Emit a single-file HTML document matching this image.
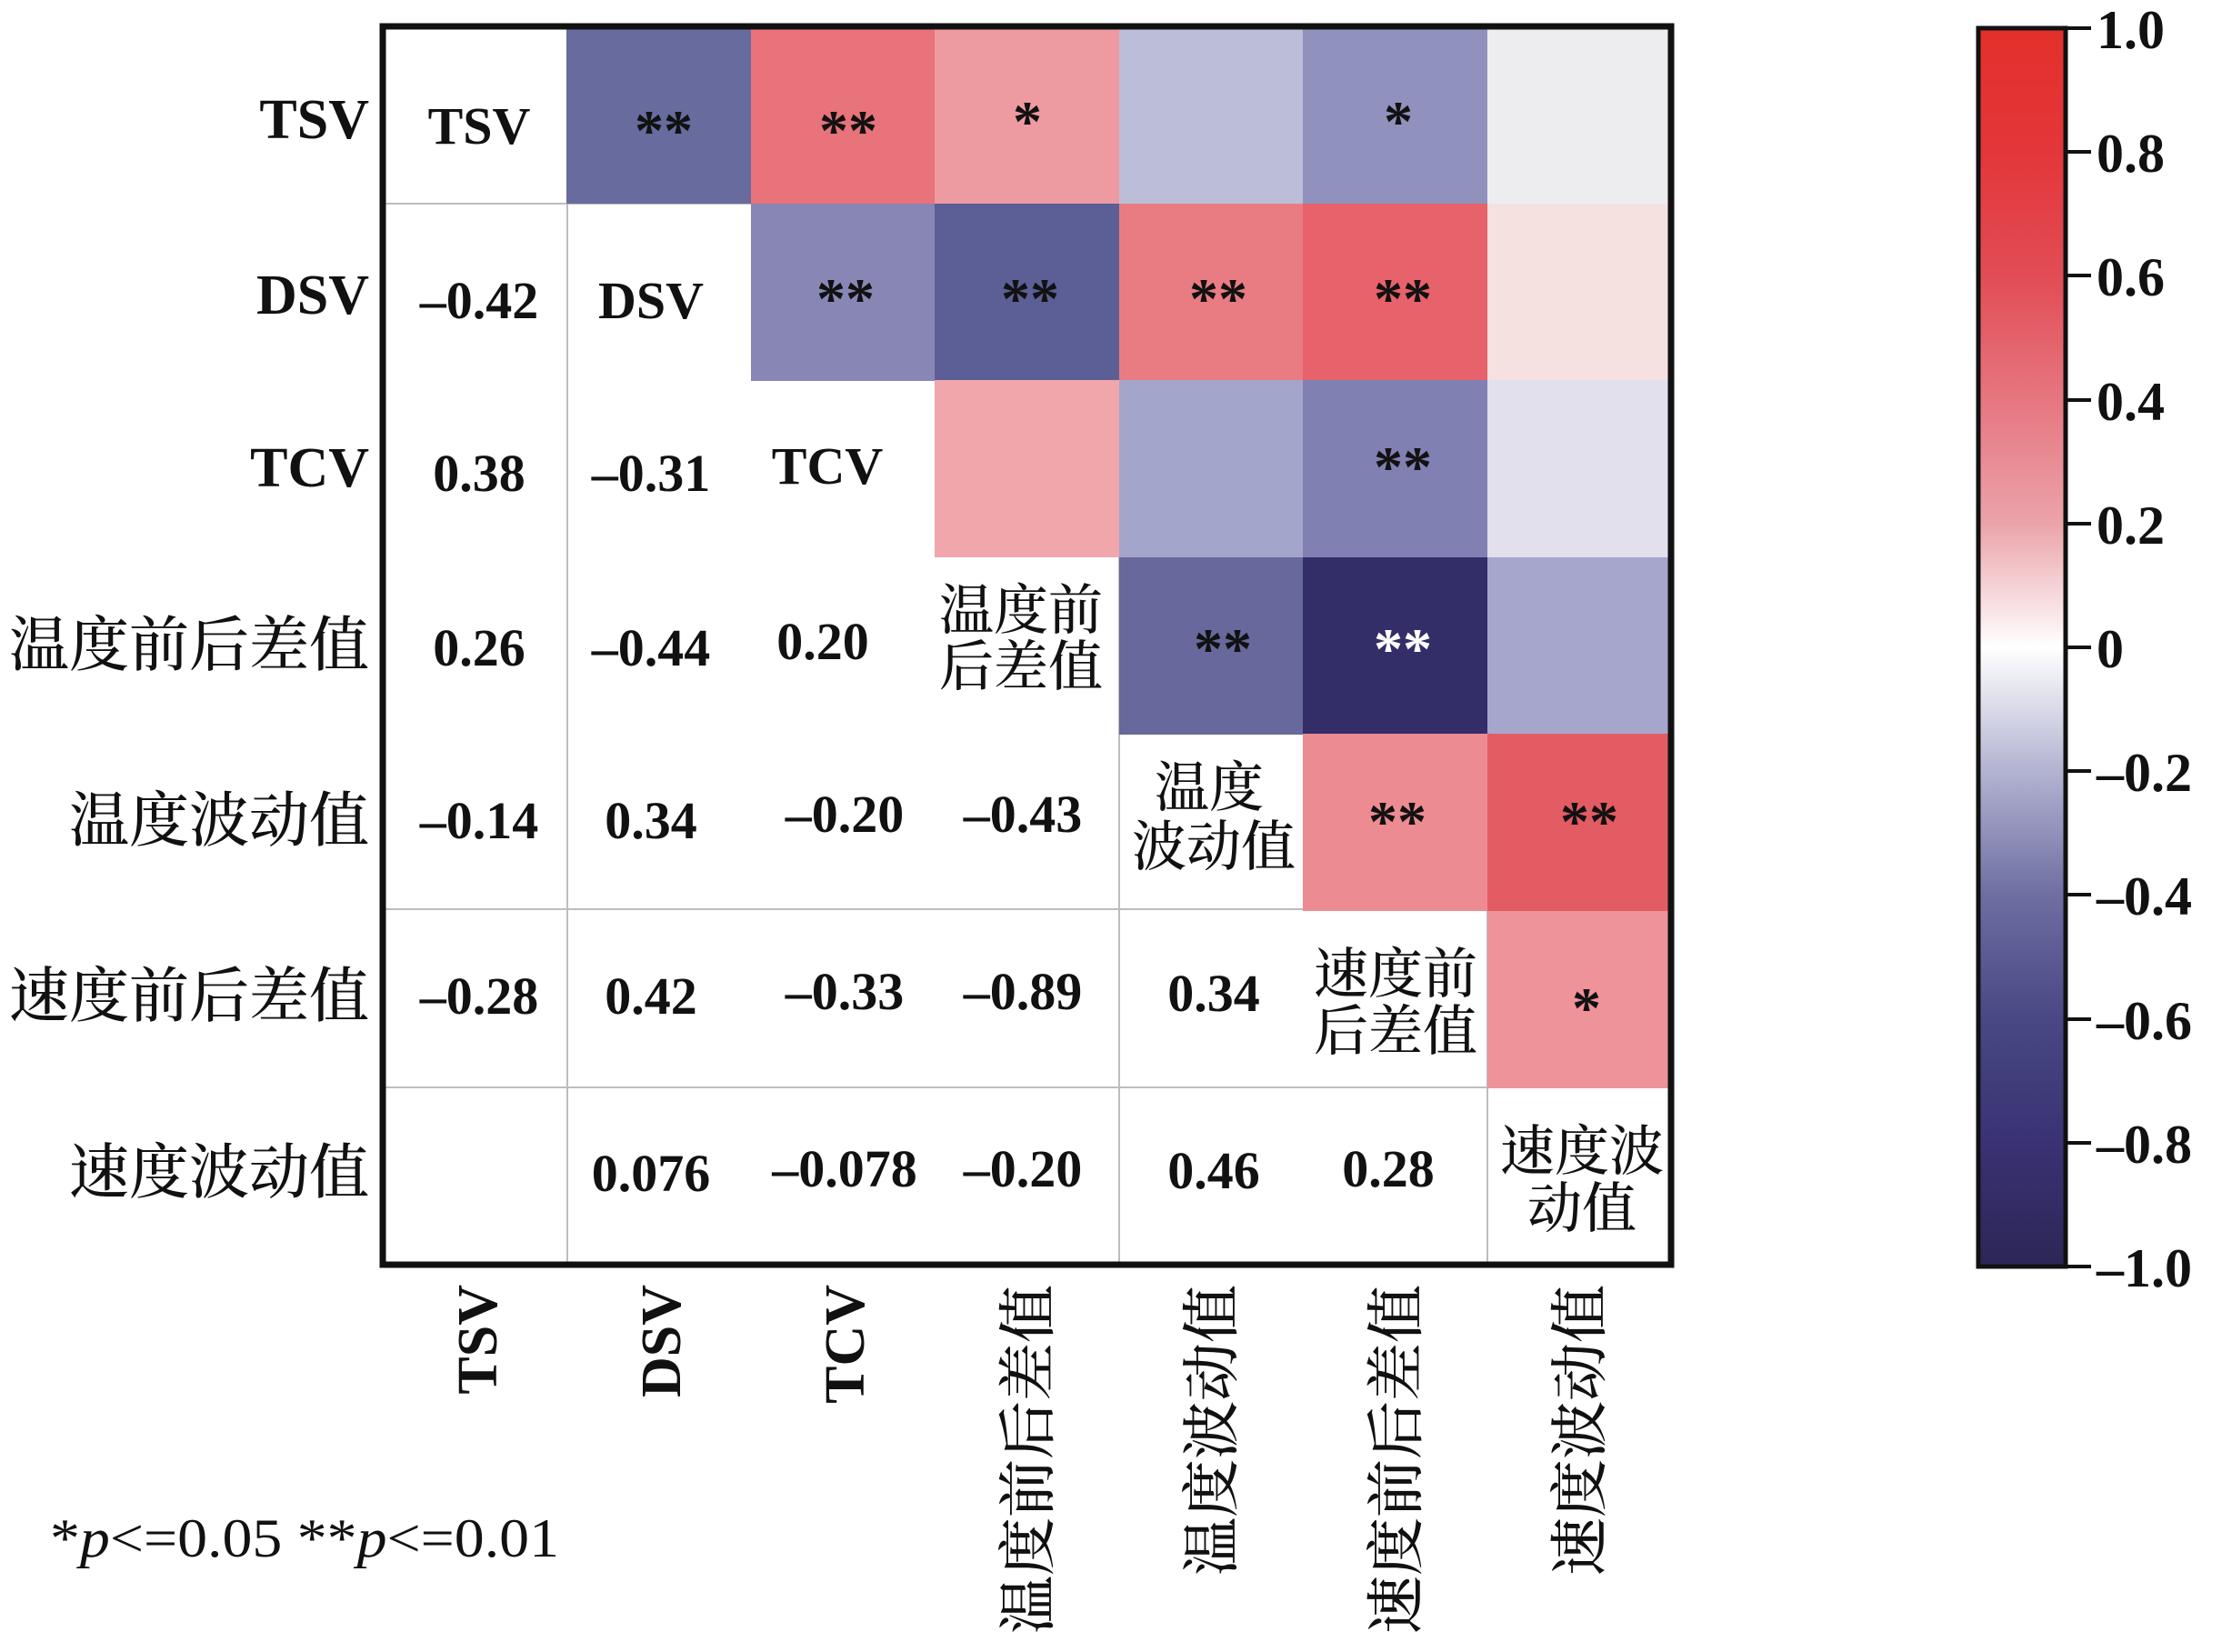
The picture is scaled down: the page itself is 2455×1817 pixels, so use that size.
<!DOCTYPE html>
<html><head><meta charset="utf-8"><style>html,body{margin:0;padding:0;background:#fff}</style></head>
<body>
<svg width="2455" height="1812" viewBox="0 0 2455 1812" xmlns="http://www.w3.org/2000/svg" font-family="'Liberation Serif','Noto Serif CJK SC',serif">
<defs>
<linearGradient id="cb" x1="0" y1="0" x2="0" y2="1">
<stop offset="0" stop-color="#e3302a"/>
<stop offset="0.1" stop-color="#e3363a"/>
<stop offset="0.2" stop-color="#e24c55"/>
<stop offset="0.3" stop-color="#e67680"/>
<stop offset="0.4" stop-color="#eba3aa"/>
<stop offset="0.5" stop-color="#ffffff"/>
<stop offset="0.6" stop-color="#b3b3d2"/>
<stop offset="0.7" stop-color="#6e6ea2"/>
<stop offset="0.8" stop-color="#474884"/>
<stop offset="0.9" stop-color="#3a3273"/>
<stop offset="1" stop-color="#2c2657"/>
</linearGradient>
</defs>
<g stroke="#bdbdbd" stroke-width="2">
<line x1="421" y1="224" x2="1838" y2="224"/>
<line x1="421" y1="1000" x2="1838" y2="1000"/>
<line x1="421" y1="1196" x2="1838" y2="1196"/>
<line x1="624" y1="29" x2="624" y2="1391"/>
<line x1="1231" y1="29" x2="1231" y2="1391"/>
<line x1="1636" y1="29" x2="1636" y2="1391"/>
</g>
<g>
<rect x="623" y="29" width="203" height="195" fill="#676b9e"/>
<rect x="826" y="29" width="203" height="195" fill="#e8737a"/>
<rect x="1028" y="29" width="203" height="195" fill="#ed9aa0"/>
<rect x="1231" y="29" width="203" height="195" fill="#bcbdd8"/>
<rect x="1433" y="29" width="203" height="195" fill="#9092bd"/>
<rect x="1636" y="29" width="202" height="195" fill="#ededf0"/>
<rect x="826" y="224" width="203" height="195" fill="#8786b5"/>
<rect x="1028" y="224" width="203" height="195" fill="#5c5e96"/>
<rect x="1231" y="224" width="203" height="195" fill="#e97c82"/>
<rect x="1433" y="224" width="203" height="195" fill="#e7626a"/>
<rect x="1636" y="224" width="202" height="195" fill="#f6e1e1"/>
<rect x="1028" y="418" width="203" height="195" fill="#f0a6ab"/>
<rect x="1231" y="418" width="203" height="195" fill="#a4a5cb"/>
<rect x="1433" y="418" width="203" height="195" fill="#8081b2"/>
<rect x="1636" y="418" width="202" height="195" fill="#e1e0ec"/>
<rect x="1231" y="613" width="203" height="195" fill="#67689c"/>
<rect x="1433" y="613" width="203" height="195" fill="#332d68"/>
<rect x="1636" y="613" width="202" height="195" fill="#a6a6cc"/>
<rect x="1433" y="807" width="203" height="195" fill="#ec8c92"/>
<rect x="1636" y="807" width="202" height="195" fill="#e45c63"/>
<rect x="1636" y="1002" width="202" height="195" fill="#ee9399"/>
</g>
<rect x="421" y="29" width="1417" height="1362" fill="none" stroke="#111" stroke-width="7"/>

<g font-size="64" font-weight="bold" text-anchor="middle" fill="#111">
<text x="730" y="165">**</text>
<text x="933" y="165">**</text>
<text x="1130" y="155">*</text>
<text x="1538" y="155">*</text>
<text x="930" y="350">**</text>
<text x="1133" y="350">**</text>
<text x="1340" y="350">**</text>
<text x="1543" y="350">**</text>
<text x="1543" y="535">**</text>
<text x="1345" y="735">**</text>
<text x="1543" y="735" fill="#fff">**</text>
<text x="1537" y="925">**</text>
<text x="1748" y="925">**</text>
<text x="1745" y="1130">*</text>
</g>

<g font-size="58" font-weight="bold" text-anchor="middle" fill="#111">
<text x="527" y="158">TSV</text>
<text x="527" y="350">–0.42</text>
<text x="716" y="350">DSV</text>
<text x="527" y="540">0.38</text>
<text x="716" y="540">–0.31</text>
<text x="910" y="532">TCV</text>
<text x="527" y="732">0.26</text>
<text x="716" y="732">–0.44</text>
<text x="905" y="725">0.20</text>
<text x="527" y="922">–0.14</text>
<text x="716" y="922">0.34</text>
<text x="929" y="915">–0.20</text>
<text x="1125" y="915">–0.43</text>
<text x="527" y="1115">–0.28</text>
<text x="716" y="1115">0.42</text>
<text x="929" y="1110">–0.33</text>
<text x="1125" y="1110">–0.89</text>
<text x="1335" y="1112">0.34</text>
<text x="716" y="1310">0.076</text>
<text x="929" y="1305">–0.078</text>
<text x="1125" y="1305">–0.20</text>
<text x="1335" y="1307">0.46</text>
<text x="1527" y="1305">0.28</text>
</g>
<g font-size="60" font-weight="500" text-anchor="middle" fill="#111">
<text x="1123" y="692">温度前</text>
<text x="1123" y="754">后差值</text>
<text x="1330" y="887">温度</text>
<text x="1335" y="952">波动值</text>
<text x="1535" y="1092">速度前</text>
<text x="1535" y="1155">后差值</text>
<text x="1740" y="1287">速度波</text>
<text x="1740" y="1350">动值</text>
</g>

<g font-size="62" font-weight="bold" text-anchor="end" fill="#111">
<text x="406" y="152">TSV</text>
<text x="406" y="345">DSV</text>
<text x="406" y="535">TCV</text>
<text x="406" y="732" font-size="66" font-weight="500">温度前后差值</text>
<text x="406" y="925" font-size="66" font-weight="500">温度波动值</text>
<text x="406" y="1118" font-size="66" font-weight="500">速度前后差值</text>
<text x="406" y="1312" font-size="66" font-weight="500">速度波动值</text>
</g>

<g font-size="62" font-weight="bold" text-anchor="end" fill="#111">
<text transform="translate(546,1413) rotate(-90)">TSV</text>
<text transform="translate(748,1413) rotate(-90)">DSV</text>
<text transform="translate(950,1413) rotate(-90)">TCV</text>
</g>
<g font-size="64" font-weight="500" text-anchor="end" fill="#111">
<text transform="translate(1153,1413) rotate(-90)">温度前后差值</text>
<text transform="translate(1355,1413) rotate(-90)">温度波动值</text>
<text transform="translate(1558,1413) rotate(-90)">速度前后差值</text>
<text transform="translate(1760,1413) rotate(-90)">速度波动值</text>
</g>

<text x="55" y="1712" font-size="60" fill="#111" textLength="560" lengthAdjust="spacingAndGlyphs">*<tspan font-style="italic">p</tspan>&lt;=0.05  **<tspan font-style="italic">p</tspan>&lt;=0.01</text>

<rect x="2176" y="31" width="96" height="1362" fill="url(#cb)" stroke="#111" stroke-width="5"/>
<g stroke="#111" stroke-width="4">
<line x1="2272" y1="31" x2="2300" y2="31"/>
<line x1="2272" y1="167" x2="2300" y2="167"/>
<line x1="2272" y1="303" x2="2300" y2="303"/>
<line x1="2272" y1="440" x2="2300" y2="440"/>
<line x1="2272" y1="576" x2="2300" y2="576"/>
<line x1="2272" y1="712" x2="2300" y2="712"/>
<line x1="2272" y1="848" x2="2300" y2="848"/>
<line x1="2272" y1="984" x2="2300" y2="984"/>
<line x1="2272" y1="1121" x2="2300" y2="1121"/>
<line x1="2272" y1="1257" x2="2300" y2="1257"/>
<line x1="2272" y1="1393" x2="2300" y2="1393"/>
</g>
<g font-size="60" font-weight="bold" fill="#111" dominant-baseline="central">
<text x="2306" y="33">1.0</text>
<text x="2306" y="169">0.8</text>
<text x="2306" y="305">0.6</text>
<text x="2306" y="442">0.4</text>
<text x="2306" y="578">0.2</text>
<text x="2306" y="714">0</text>
<text x="2306" y="850">–0.2</text>
<text x="2306" y="986">–0.4</text>
<text x="2306" y="1123">–0.6</text>
<text x="2306" y="1259">–0.8</text>
<text x="2306" y="1395">–1.0</text>
</g>
</svg>
</body></html>
